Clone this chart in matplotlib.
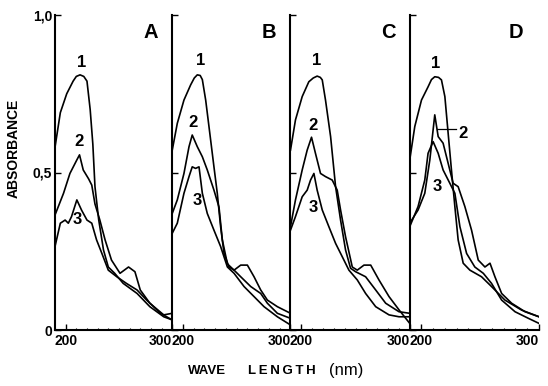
import numpy as np
import matplotlib
matplotlib.use("Agg")
import matplotlib.pyplot as plt
from matplotlib.ticker import MultipleLocator

plt.rcParams['font.family'] = ['Liberation Sans', 'DejaVu Sans']

# spectra: wavelength (nm) / absorbance, curves 1..3 per panel
a1_nm = [190, 195, 201, 207, 210, 213.5, 217, 220, 223, 225.5, 227.5, 231, 235.5, 240, 246, 254, 267, 279, 292, 300]
a1_ab = [0.58, 0.69, 0.75, 0.79, 0.805, 0.81, 0.805, 0.79, 0.70, 0.59, 0.455, 0.35, 0.254, 0.20, 0.18, 0.148, 0.116, 0.074, 0.042, 0.032]
a2_nm = [190, 198, 204, 210.5, 213, 216.5, 221.5, 224.5, 227.5, 232, 237, 243, 251, 259, 265, 270, 279, 292, 300]
a2_ab = [0.365, 0.434, 0.497, 0.54, 0.556, 0.508, 0.48, 0.46, 0.40, 0.35, 0.286, 0.222, 0.18, 0.20, 0.185, 0.127, 0.085, 0.048, 0.053]
a3_nm = [190, 195, 199.5, 202.5, 205.5, 210.5, 215, 220, 224.5, 229, 234, 240, 248, 257, 267, 276, 289, 300]
a3_ab = [0.265, 0.339, 0.349, 0.339, 0.36, 0.413, 0.38, 0.349, 0.339, 0.286, 0.243, 0.19, 0.169, 0.148, 0.127, 0.095, 0.053, 0.032]

b1_nm = [190, 194.7, 200.9, 207.1, 210.5, 213.3, 216, 218, 221.1, 224.2, 228.8, 231.9, 235, 238.2, 242.8, 247.5, 253.7, 263, 272.3, 278.5, 287.8, 300]
b1_ab = [0.571, 0.656, 0.73, 0.778, 0.80, 0.81, 0.808, 0.795, 0.73, 0.645, 0.518, 0.434, 0.328, 0.243, 0.20, 0.19, 0.169, 0.138, 0.116, 0.085, 0.053, 0.037]
b2_nm = [190, 194.7, 200.9, 205.6, 208.6, 213.3, 218, 222.6, 228.8, 233.5, 236.6, 241.3, 247.5, 253.7, 259.9, 266.1, 272.3, 278.5, 287.8, 300]
b2_ab = [0.37, 0.413, 0.497, 0.582, 0.619, 0.582, 0.55, 0.508, 0.444, 0.39, 0.286, 0.21, 0.19, 0.206, 0.206, 0.169, 0.127, 0.095, 0.074, 0.053]
b3_nm = [190, 194.7, 200.9, 205.6, 208.6, 211.7, 214.9, 218, 222.6, 228.8, 235, 241.3, 247.5, 256.8, 266.1, 275.4, 287.8, 300]
b3_ab = [0.307, 0.339, 0.434, 0.487, 0.518, 0.513, 0.518, 0.434, 0.37, 0.317, 0.265, 0.20, 0.18, 0.138, 0.106, 0.074, 0.042, 0.016]

c1_nm = [190, 194.6, 200.8, 206.9, 211, 214.6, 217.5, 219.3, 222.3, 227, 231.6, 236.2, 240.8, 245.4, 250.1, 259.3, 268.6, 277.8, 290.1, 300]
c1_ab = [0.571, 0.667, 0.741, 0.788, 0.80, 0.806, 0.802, 0.794, 0.73, 0.614, 0.455, 0.349, 0.254, 0.196, 0.185, 0.169, 0.127, 0.085, 0.058, 0.053]
c2_nm = [190, 194.6, 200.8, 205.4, 209.4, 213.1, 217.7, 222.3, 228.5, 233.1, 236.2, 240.8, 247, 251.6, 257.8, 264, 271.6, 280.9, 290.1, 300]
c2_ab = [0.328, 0.413, 0.508, 0.571, 0.612, 0.56, 0.497, 0.487, 0.476, 0.444, 0.381, 0.296, 0.2, 0.19, 0.206, 0.206, 0.159, 0.106, 0.064, 0.021]
c3_nm = [190, 194.6, 200.8, 205.4, 208.5, 211.6, 214.6, 219.3, 225.4, 231.6, 237.7, 243.9, 251.6, 259.3, 268.6, 280.9, 290.1, 300]
c3_ab = [0.317, 0.36, 0.423, 0.444, 0.476, 0.497, 0.444, 0.381, 0.328, 0.275, 0.233, 0.19, 0.159, 0.116, 0.074, 0.048, 0.042, 0.042]

d1_nm = [190, 194.3, 200, 205.6, 208.5, 211.3, 214.5, 217, 219.9, 222.7, 225.5, 228.4, 231.2, 235.5, 241.2, 251.1, 259.6, 271, 285.3, 300]
d1_ab = [0.54, 0.646, 0.73, 0.772, 0.795, 0.804, 0.802, 0.794, 0.741, 0.624, 0.508, 0.392, 0.286, 0.212, 0.19, 0.169, 0.138, 0.095, 0.063, 0.042]
d2_nm = [190, 197.1, 202.8, 207.1, 211.3, 214.2, 218.4, 222.7, 226.9, 231.2, 236.9, 242.6, 248.3, 254, 258.3, 262.5, 268.2, 276.7, 288.1, 300]
d2_ab = [0.339, 0.381, 0.434, 0.54, 0.683, 0.614, 0.593, 0.529, 0.466, 0.455, 0.392, 0.317, 0.222, 0.20, 0.212, 0.169, 0.116, 0.085, 0.058, 0.042]
d3_nm = [190, 197.1, 202.8, 205.6, 209.9, 214.2, 218.4, 224.1, 228.4, 232.7, 238.4, 245.4, 252.6, 259.6, 268.2, 279.6, 291, 300]
d3_ab = [0.328, 0.392, 0.476, 0.561, 0.598, 0.561, 0.508, 0.466, 0.434, 0.328, 0.243, 0.2, 0.18, 0.148, 0.095, 0.058, 0.037, 0.021]

panel_names = ['A', 'B', 'C', 'D']
panels = [
    [(a1_nm, a1_ab), (a2_nm, a2_ab), (a3_nm, a3_ab)],
    [(b1_nm, b1_ab), (b2_nm, b2_ab), (b3_nm, b3_ab)],
    [(c1_nm, c1_ab), (c2_nm, c2_ab), (c3_nm, c3_ab)],
    [(d1_nm, d1_ab), (d2_nm, d2_ab), (d3_nm, d3_ab)],
]
# curve number label positions (nm, absorbance)
label_pos = [
    [(215, 0.85), (212.5, 0.60), (210.7, 0.35)],
    [(216.7, 0.855), (209.6, 0.66), (213.6, 0.41)],
    [(213.8, 0.855), (210.6, 0.65), (210.6, 0.39)],
    [(212.2, 0.845), (235.5, 0.624), (213.4, 0.455)],
]

fig = plt.figure(figsize=(5.48, 3.86), dpi=100)
gs = fig.add_gridspec(1, 4, width_ratios=[117, 118, 119, 129], wspace=0,
                      left=55/548, right=539/548, bottom=(386-330)/386, top=(386-15)/386)

for i in range(4):
    ax = fig.add_subplot(gs[0, i])
    for nm, ab in panels[i]:
        ax.plot(nm, ab, color='black', lw=1.2, solid_joinstyle='round')
    ax.set_xlim(190, 300)
    ax.set_ylim(0, 1.0)
    for s in ['top', 'right']:
        ax.spines[s].set_visible(False)
    for s in ['left', 'bottom']:
        ax.spines[s].set_linewidth(1.5)
    ax.set_xticks([200, 300])
    ax.xaxis.set_minor_locator(MultipleLocator(10))
    ax.tick_params(axis='x', which='major', direction='in', length=4, width=1, pad=3)
    ax.tick_params(axis='x', which='minor', direction='in', length=1.5, width=0.8)
    ax.set_xticklabels(['200', '300'], fontsize=10, fontweight='bold')
    ax.get_xticklabels()[0].set_horizontalalignment('center')
    ax.get_xticklabels()[1].set_horizontalalignment('right')
    ax.set_yticks([0, 0.5, 1.0])
    ax.tick_params(axis='y', direction='in', length=4, width=1, pad=2)
    if i == 0:
        ax.set_yticklabels(['0', '0,5', '1,0'], fontsize=10, fontweight='bold')
    else:
        ax.set_yticklabels([])
    ax.patch.set_visible(False)

    ax.text(280, 0.945, panel_names[i], fontsize=14.5, fontweight='bold', ha='center', va='center')
    for k, (lx, ly) in enumerate(label_pos[i]):
        ax.text(lx, ly, str(k + 1), fontsize=12, fontweight='bold', ha='center', va='center')
    if i == 3:
        ax.plot([213, 229], [0.638, 0.638], color='black', lw=0.9)

fig.text(14/548, 1 - 148/386, 'ABSORBANCE', rotation=90, fontsize=10, fontweight='bold',
         ha='center', va='center')
fig.text(207/548, 1 - 371/386, 'WAVE', fontsize=9.5, fontweight='bold', ha='center', va='center')
fig.text(282/548, 1 - 371/386, 'L\u2009E\u2009N\u2009G\u2009T\u2009H', fontsize=9.5,
         fontweight='bold', ha='center', va='center')
fig.text(346/548, 1 - 370/386, '(nm)', fontsize=12, ha='center', va='center')

plt.savefig('out.png', dpi=100)
